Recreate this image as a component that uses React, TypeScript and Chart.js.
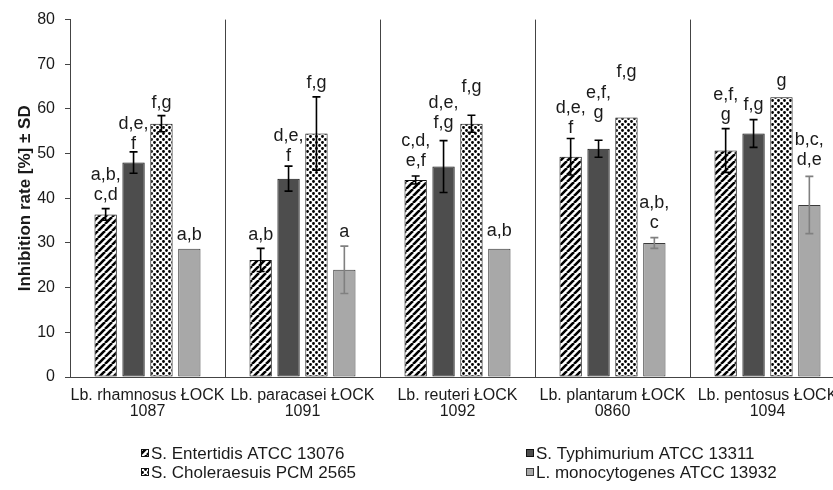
import React, { useEffect, useRef } from "react";
import { Chart, registerables } from "chart.js";

Chart.register(...registerables);

const FONT = "'Liberation Sans', Arial, sans-serif";

const categories: string[][] = [
  ["Lb. rhamnosus ŁOCK", "1087"],
  ["Lb. paracasei ŁOCK", "1091"],
  ["Lb. reuteri ŁOCK", "1092"],
  ["Lb. plantarum ŁOCK", "0860"],
  ["Lb. pentosus ŁOCK", "1094"],
];

const seriesNames = [
  "S. Entertidis ATCC 13076",
  "S. Typhimurium ATCC 13311",
  "S. Choleraesuis PCM 2565",
  "L. monocytogenes ATCC 13932",
];

const entertidis = [36.4, 26.2, 44.1, 49.3, 50.7];
const entertidisSD = [1.3, 2.6, 0.9, 4.1, 4.9];
const typhimurium = [48.0, 44.4, 47.1, 51.1, 54.5];
const typhimuriumSD = [2.4, 2.8, 5.8, 1.9, 3.1];
const choleraesuis = [56.7, 54.5, 56.7, 58.1, 62.6];
const choleraesuisSD = [1.8, 8.2, 1.9, 0, 0];
const monocytogenes = [28.7, 24.0, 28.7, 30.0, 38.5];
const monocytogenesSD = [0, 5.3, 0, 1.2, 6.4];

const lettersEnt = [["a,b,", "c,d"], ["a,b"], ["c,d,", "e,f"], ["d,e,", "f"], ["e,f,", "g"]];
const lettersTyph = [["d,e,", "f"], ["d,e,", "f"], ["d,e,", "f,g"], ["e,f,", "g"], ["f,g"]];
const lettersChol = [["f,g"], ["f,g"], ["f,g"], ["f,g"], ["g"]];
const lettersMono = [["a,b"], ["a"], ["a,b"], ["a,b,", "c"], ["b,c,", "d,e"]];

// gap (px) between the top of the error bar and the baseline of the lowest label line
const gapEnt = [9, 8, 10, 5, 9];
const gapTyph = [3, 5, 13, 22, 10];
const gapChol = [8, 9, 23, 40, 11];
const gapMono = [9, 9, 13, 10, 11];

const yTicksMin = 0;
const yTicksMax = 80;
const yTicksStep = 10;

function makeStripe(): CanvasPattern {
  const s = 7;
  const c = document.createElement("canvas");
  c.width = s;
  c.height = s;
  const g = c.getContext("2d")!;
  g.fillStyle = "#ffffff";
  g.fillRect(0, 0, s, s);
  g.strokeStyle = "#000000";
  g.lineWidth = 2.6;
  g.beginPath();
  for (const o of [-s, 0, s]) {
    g.moveTo(o, s);
    g.lineTo(o + s, 0);
  }
  g.stroke();
  return g.createPattern(c, "repeat")!;
}

function makeDots(): CanvasPattern {
  const s = 6;
  const c = document.createElement("canvas");
  c.width = s;
  c.height = s;
  const g = c.getContext("2d")!;
  g.fillStyle = "#ffffff";
  g.fillRect(0, 0, s, s);
  g.fillStyle = "#000000";
  g.beginPath();
  g.arc(1.5, 1.5, 1.45, 0, Math.PI * 2);
  g.closePath();
  g.moveTo(4.5 + 1.45, 4.5);
  g.arc(4.5, 4.5, 1.45, 0, Math.PI * 2);
  g.closePath();
  g.fill();
  return g.createPattern(c, "repeat")!;
}

export default function App() {
  const ref = useRef<HTMLCanvasElement | null>(null);

  useEffect(() => {
    const canvas = ref.current;
    if (!canvas) return;
    const stripe = makeStripe();
    const dots = makeDots();

    const values = [entertidis, typhimurium, choleraesuis, monocytogenes];
    const sds = [entertidisSD, typhimuriumSD, choleraesuisSD, monocytogenesSD];
    const letters = [lettersEnt, lettersTyph, lettersChol, lettersMono];
    const gaps = [gapEnt, gapTyph, gapChol, gapMono];
    const fills: (string | CanvasPattern)[] = [stripe, "#4d4d4d", dots, "#a8a8a8"];
    const borders = ["#111111", "#111111", "#111111", "#3a3a3a"];
    const errColors = ["#000000", "#000000", "#000000", "#808080"];

    const overlay = {
      id: "overlay",
      afterDatasetsDraw(chart: any) {
        const ctx = chart.ctx as CanvasRenderingContext2D;
        const y = chart.scales.y;
        ctx.save();
        for (let d = 0; d < values.length; d++) {
          const meta = chart.getDatasetMeta(d);
          meta.data.forEach((el: any, i: number) => {
            const v = values[d][i];
            const sd = sds[d][i];
            const x = el.x;
            const top = y.getPixelForValue(v + sd);
            const bot = y.getPixelForValue(v - sd);
            if (sd > 0) {
              ctx.strokeStyle = errColors[d];
              ctx.lineWidth = 1.6;
              ctx.beginPath();
              ctx.moveTo(x, top);
              ctx.lineTo(x, bot);
              ctx.moveTo(x - 4, top);
              ctx.lineTo(x + 4, top);
              ctx.moveTo(x - 4, bot);
              ctx.lineTo(x + 4, bot);
              ctx.stroke();
            }
            const lines = letters[d][i];
            ctx.fillStyle = "#1a1a1a";
            ctx.font = `18px ${FONT}`;
            ctx.textAlign = "center";
            ctx.textBaseline = "alphabetic";
            const base = Math.min(top, y.getPixelForValue(v)) - gaps[d][i];
            for (let k = 0; k < lines.length; k++) {
              const ly = base - (lines.length - 1 - k) * 20;
              ctx.fillText(lines[k], x, ly);
            }
          });
        }
        ctx.restore();
      },
      afterDraw(chart: any) {
        const ctx = chart.ctx as CanvasRenderingContext2D;
        ctx.save();
        const pos = [
          { x: 141, y: 453 },
          { x: 526, y: 453 },
          { x: 141, y: 472 },
          { x: 526, y: 472 },
        ];
        for (let d = 0; d < seriesNames.length; d++) {
          const p = pos[d];
          ctx.fillStyle = fills[d] as any;
          ctx.fillRect(p.x, p.y - 4, 8, 8);
          ctx.strokeStyle = borders[d];
          ctx.lineWidth = 1;
          ctx.strokeRect(p.x + 0.5, p.y - 3.5, 7, 7);
          ctx.fillStyle = "#1a1a1a";
          ctx.font = `17px ${FONT}`;
          ctx.textAlign = "left";
          ctx.textBaseline = "middle";
          ctx.fillText(seriesNames[d], p.x + 10, p.y + 1);
        }
        ctx.restore();
      },
    };

    const chart = new Chart(canvas, {
      type: "bar",
      data: {
        labels: categories,
        datasets: values.map((vals, d) => ({
          label: seriesNames[d],
          data: vals,
          backgroundColor: fills[d] as any,
          borderColor: borders[d],
          borderWidth: 1,
          borderSkipped: false,
          categoryPercentage: 0.72,
          barPercentage: 0.8,
        })),
      },
      options: {
        responsive: false,
        animation: false,
        devicePixelRatio: 1,
        layout: { padding: { top: 18, right: 15, left: 0, bottom: 0 } },
        plugins: {
          legend: { display: false },
          tooltip: { enabled: false },
        },
        scales: {
          x: {
            grid: { offset: true, color: "#444444", lineWidth: 1, tickLength: 0 },
            border: { color: "#444444" },
            ticks: {
              autoSkip: false,
              maxRotation: 0,
              padding: 11,
              color: "#1a1a1a",
              font: { family: FONT, size: 16, lineHeight: "16px" as any },
            },
            afterFit: (s: any) => {
              s.height = 113;
            },
          },
          y: {
            min: yTicksMin,
            max: yTicksMax,
            ticks: {
              stepSize: yTicksStep,
              padding: 10,
              color: "#1a1a1a",
              font: { family: FONT, size: 16 },
            },
            grid: { drawOnChartArea: false, tickLength: 5, color: "#444444" },
            border: { color: "#444444" },
            title: {
              display: true,
              text: "Inhibition rate [%] ± SD",
              color: "#1a1a1a",
              font: { family: FONT, size: 17, weight: "bold" },
              padding: { top: 15, bottom: 0 },
            },
            afterFit: (s: any) => {
              s.width = 70;
            },
          },
        },
      },
      plugins: [overlay],
    });

    return () => chart.destroy();
  }, []);

  return (
    <div
      style={{
        position: "fixed",
        left: 0,
        top: 0,
        width: 833,
        height: 490,
        overflow: "hidden",
        background: "#ffffff",
      }}
    >
      <canvas ref={ref} width={860} height={490} style={{ display: "block" }} />
    </div>
  );
}
